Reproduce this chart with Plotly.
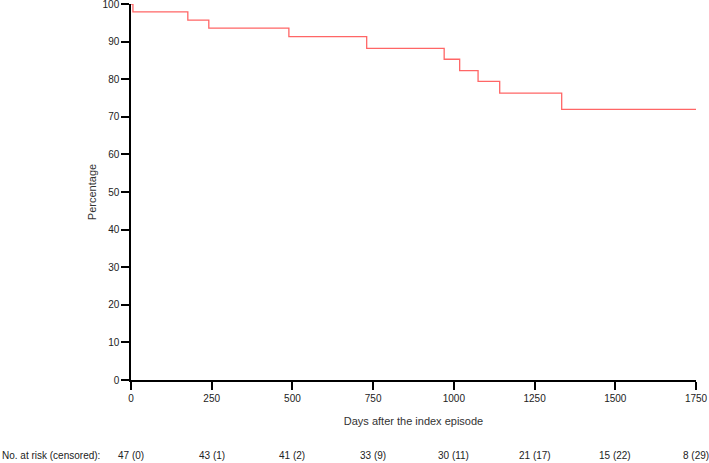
import plotly.graph_objects as go

days = [0, 6, 176, 241, 489, 730, 970, 1018, 1075, 1142, 1334, 1750]
percentage = [100, 97.9, 95.7, 93.6, 91.3, 88.2, 85.3, 82.3, 79.4, 76.3, 72.0, 72.0]

risk_days = [0, 250, 500, 750, 1000, 1250, 1500, 1750]
risk_labels = ["47 (0)", "43 (1)", "41 (2)", "33 (9)", "30 (11)", "21 (17)", "15 (22)", "8 (29)"]

SHIFT = 10  # page is scrolled up by this many px so the top tick label is kept
W, H = 709, 463 + SHIFT
L, R, T, B = 131, 13, 4 + SHIFT, 83
plot_w = W - L - R
plot_h = H - T - B

fig = go.Figure()
fig.add_trace(go.Scatter(
    x=days, y=percentage, mode="lines", line_shape="hv",
    line=dict(color="#ff6666", width=1.3), cliponaxis=False, showlegend=False,
    hoverinfo="skip"))

font = dict(family="Liberation Sans, Arial, sans-serif", size=11, color="#333333")
small = dict(family="Liberation Sans, Arial, sans-serif", size=10, color="#222222")

row_y = -(455 + SHIFT - (T + plot_h)) / plot_h
for d, lab in zip(risk_days, risk_labels):
    fig.add_annotation(x=d, y=row_y, xref="x", yref="paper", text=lab,
                       showarrow=False, font=small, xanchor="center", yanchor="middle")
fig.add_annotation(x=-L / plot_w, y=row_y, xref="paper", yref="paper",
                   text="No. at risk (censored):", showarrow=False, font=small,
                   xanchor="left", yanchor="middle")

fig.update_layout(
    width=W, height=H, margin=dict(l=L, r=R, t=T, b=B, autoexpand=False),
    plot_bgcolor="white", paper_bgcolor="white", font=font,
    xaxis=dict(range=[0, 1750], tickvals=risk_days, ticks="outside", ticklen=8,
               tickwidth=1.5, tickcolor="black", showline=True, linecolor="black",
               linewidth=1.5, showgrid=False, zeroline=False, tickfont=small,
               title=dict(text="Days after the index episode", standoff=15, font=font)),
    yaxis=dict(range=[0, 100], tickvals=list(range(0, 101, 10)), ticks="outside",
               ticklen=8, tickwidth=1.5, tickcolor="black", showline=True,
               linecolor="black", linewidth=1.5, showgrid=False, zeroline=False,
               tickfont=small,
               title=dict(text="Percentage", standoff=4, font=font)),
)

fig.write_html("out.html", config={"displayModeBar": False},
               post_script="document.body.style.margin='0';"
                           "document.body.style.marginTop='-%dpx';" % SHIFT)
